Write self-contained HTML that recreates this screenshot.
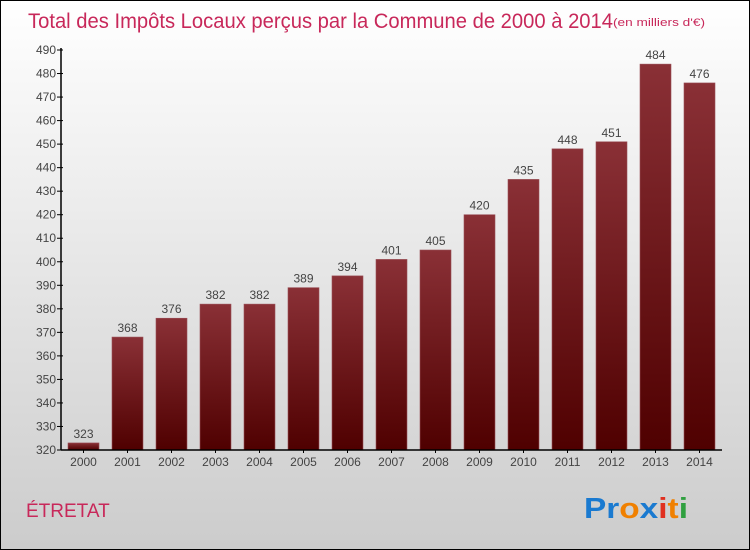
<!DOCTYPE html>
<html><head><meta charset="utf-8"><style>
body{margin:0}
#c{position:relative;width:748px;height:548px;border:1px solid #000;background:linear-gradient(#fff,#ccc);font-family:"Liberation Sans",sans-serif;overflow:hidden}
</style></head><body>
<div id="c">
<svg id="s" width="748" height="548" style="position:absolute;left:0;top:0">
<defs><linearGradient id="g" x1="0" y1="0" x2="0" y2="1"><stop offset="0" stop-color="#8a3036"/><stop offset="1" stop-color="#4f0000"/></linearGradient></defs>
<text x="27" y="27" font-size="21" fill="#c8285a" textLength="585" lengthAdjust="spacingAndGlyphs">Total des Impôts Locaux perçus par la Commune de 2000 à 2014</text>
<text x="612" y="25" font-size="11" fill="#c8285a" textLength="92" lengthAdjust="spacingAndGlyphs">(en milliers d'€)</text>
<text x="25" y="516" font-size="19" fill="#c8285a">ÉTRETAT</text>
<text x="583" y="517" font-size="29" font-weight="bold" textLength="104" lengthAdjust="spacingAndGlyphs"><tspan fill="#1a7ad0">Pr</tspan><tspan fill="#f08000">o</tspan><tspan fill="#1a7ad0">x</tspan><tspan fill="#e03020">i</tspan><tspan fill="#f08000">t</tspan><tspan fill="#30a040">i</tspan></text>
<g id="plot"></g>
</svg>
</div>
<script>
const years=["2000","2001","2002","2003","2004","2005","2006","2007","2008","2009","2010","2011","2012","2013","2014"];
const values=[323,368,376,382,382,389,394,401,405,420,435,448,451,484,476];
const yTicks=[320,330,340,350,360,370,380,390,400,410,420,430,440,450,460,470,480,490];
const NS="http://www.w3.org/2000/svg";
const p=document.getElementById('plot');
const y0=449,yTop=49,vMin=320,vMax=490,x0=60,band=44,bw=31;
const Y=v=>y0-(v-vMin)/(vMax-vMin)*(y0-yTop);
const X=i=>x0+i*band+(band-bw)/2+0.5;
function mk(t,a){const e=document.createElementNS(NS,t);for(const k in a)e.setAttribute(k,a[k]);p.appendChild(e);return e;}
yTicks.forEach(v=>{
 const y=Y(v);
 const l=mk('line',{x1:x0-4,x2:x0+2,y1:y,y2:y,stroke:'#000'});
 
 
 const t=mk('text',{x:x0-5,y:y+4,'text-anchor':'end','font-size':12,fill:'#444'});
 t.textContent=v;
 
 
});
values.forEach((v,i)=>{
 const x=X(i);
 const r=mk('rect',{x:x,y:Y(v),width:bw,height:y0-Y(v),fill:'url(#g)',stroke:'#9a5058','stroke-width':0.6});
 
 
 const t=mk('text',{x:x+bw/2,y:Y(v)-5,'text-anchor':'middle','font-size':12,fill:'#444'});
 t.textContent=v;
 
 
 const xt=mk('text',{x:x+bw/2,y:y0+16,'text-anchor':'middle','font-size':12,fill:'#444'});
 xt.textContent=years[i];
 
 
 const tk=mk('line',{x1:x+bw/2,x2:x+bw/2,y1:y0,y2:y0+3,stroke:'#000'});
 
 
});
const ya=mk('line',{x1:x0,x2:x0,y1:yTop-2,y2:y0,stroke:'#000','stroke-width':1.5});


const xa=mk('line',{x1:x0,x2:x0+band*15+1,y1:y0,y2:y0,stroke:'#000','stroke-width':1.5});


</script>
</body></html>
